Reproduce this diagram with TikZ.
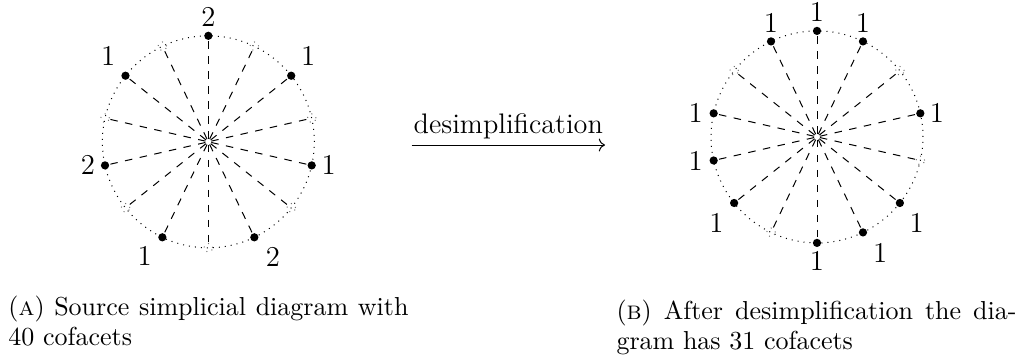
\documentclass[tikz,border=0pt]{standalone}
\usetikzlibrary{arrows.meta}
\tikzset{
  dotnode/.style={circle, fill=black, inner sep=0pt, minimum size=3.3pt},
  opennode/.style={circle, draw=black!55, dotted, line width=0.4pt, inner sep=0pt, minimum size=3.5pt},
  hub/.style={circle, inner sep=0pt, minimum size=2pt},
  spoke/.style={dashed, line width=0.4pt},
  rim/.style={dotted, line width=0.4pt},
  lbl/.style={inner sep=0pt, font=\fontsize{11.5}{13.8}\selectfont},
  capt/.style={anchor=base west, inner sep=0pt, text width=160pt, align=justify, font=\fontsize{10.4}{12}\selectfont},
  arrowtext/.style={anchor=base, inner sep=0pt, font=\fontsize{11.3}{13.6}\selectfont}
}
\begin{document}
\begin{tikzpicture}[x=0.4pt, y=0.4pt]
\useasboundingbox (0,0) rectangle (1022,362);

% ---------- left diagram ----------
\node[hub] (cL) at (208.35,220.2) {};
\draw[rim] (cL.center) circle (106);
\foreach \k in {0,2,...,12}{
  \pgfmathsetmacro{\a}{90-\k*360/14}
  \node[dotnode] (L\k) at ([shift={(\a:106)}]cL.center) {};
}
\foreach \k in {1,3,...,13}{
  \pgfmathsetmacro{\a}{90-\k*360/14}
  \node[opennode] (L\k) at ([shift={(\a:106)}]cL.center) {};
}
\foreach \k in {0,...,13}{
  \draw[spoke] (cL) -- (L\k);
}
\node[lbl] (lL0)  at ([shift={(0,18.5)}]L0) {2};
\node[lbl] (lL2)  at ([shift={(17,19.3)}]L2) {1};
\node[lbl] (lL4)  at ([shift={(17,0)}]L4) {1};
\node[lbl] (lL6)  at ([shift={(18.5,-19.4)}]L6) {2};
\node[lbl] (lL8)  at ([shift={(-17.7,-18.5)}]L8) {1};
\node[lbl] (lL10) at ([shift={(-17,0)}]L10) {2};
\node[lbl] (lL12) at ([shift={(-17.4,19.3)}]L12) {1};

% ---------- arrow ----------
\coordinate (aS) at (411.7,217);
\coordinate (aE) at (605,217);
\draw[line width=0.4pt, -{Computer Modern Rightarrow}] (aS) -- (aE);
\node[arrowtext] (atext) at (508.3,228.7) {desimplification};

% ---------- right diagram ----------
\node[hub] (cR) at (817,225.1) {};
\draw[rim] (cR.center) circle (106);
\foreach \k in {0,1,3,5,6,7,9,10,11,13}{
  \pgfmathsetmacro{\a}{90-\k*360/14}
  \node[dotnode] (R\k) at ([shift={(\a:106)}]cR.center) {};
}
\foreach \k in {2,4,8,12}{
  \pgfmathsetmacro{\a}{90-\k*360/14}
  \node[opennode] (R\k) at ([shift={(\a:106)}]cR.center) {};
}
\foreach \k in {0,...,13}{
  \draw[spoke] (cR) -- (R\k);
}
\node[lbl] (lR0)  at ([shift={(0,18.5)}]R0) {1};
\node[lbl] (lR1)  at ([shift={(0,18.5)}]R1) {1};
\node[lbl] (lR3)  at ([shift={(16.5,0)}]R3) {1};
\node[lbl] (lR5)  at ([shift={(16.7,-20)}]R5) {1};
\node[lbl] (lR6)  at ([shift={(17.3,-21)}]R6) {1};
\node[lbl] (lR7)  at ([shift={(0,-18)}]R7) {1};
\node[lbl] (lR9)  at ([shift={(-17.6,-20)}]R9) {1};
\node[lbl] (lR10) at ([shift={(-18,0)}]R10) {1};
\node[lbl] (lR11) at ([shift={(-18,0)}]R11) {1};
\node[lbl] (lR13) at ([shift={(0,18)}]R13) {1};

% ---------- captions ----------
\node[capt] (capA) at (8,47) {(\textsc{a}) Source simplicial diagram with\linebreak 40 cofacets};
\node[capt] (capB) at (616,42.5) {(\textsc{b}) After desimplification the dia-\linebreak gram has 31 cofacets};
\end{tikzpicture}
\end{document}
